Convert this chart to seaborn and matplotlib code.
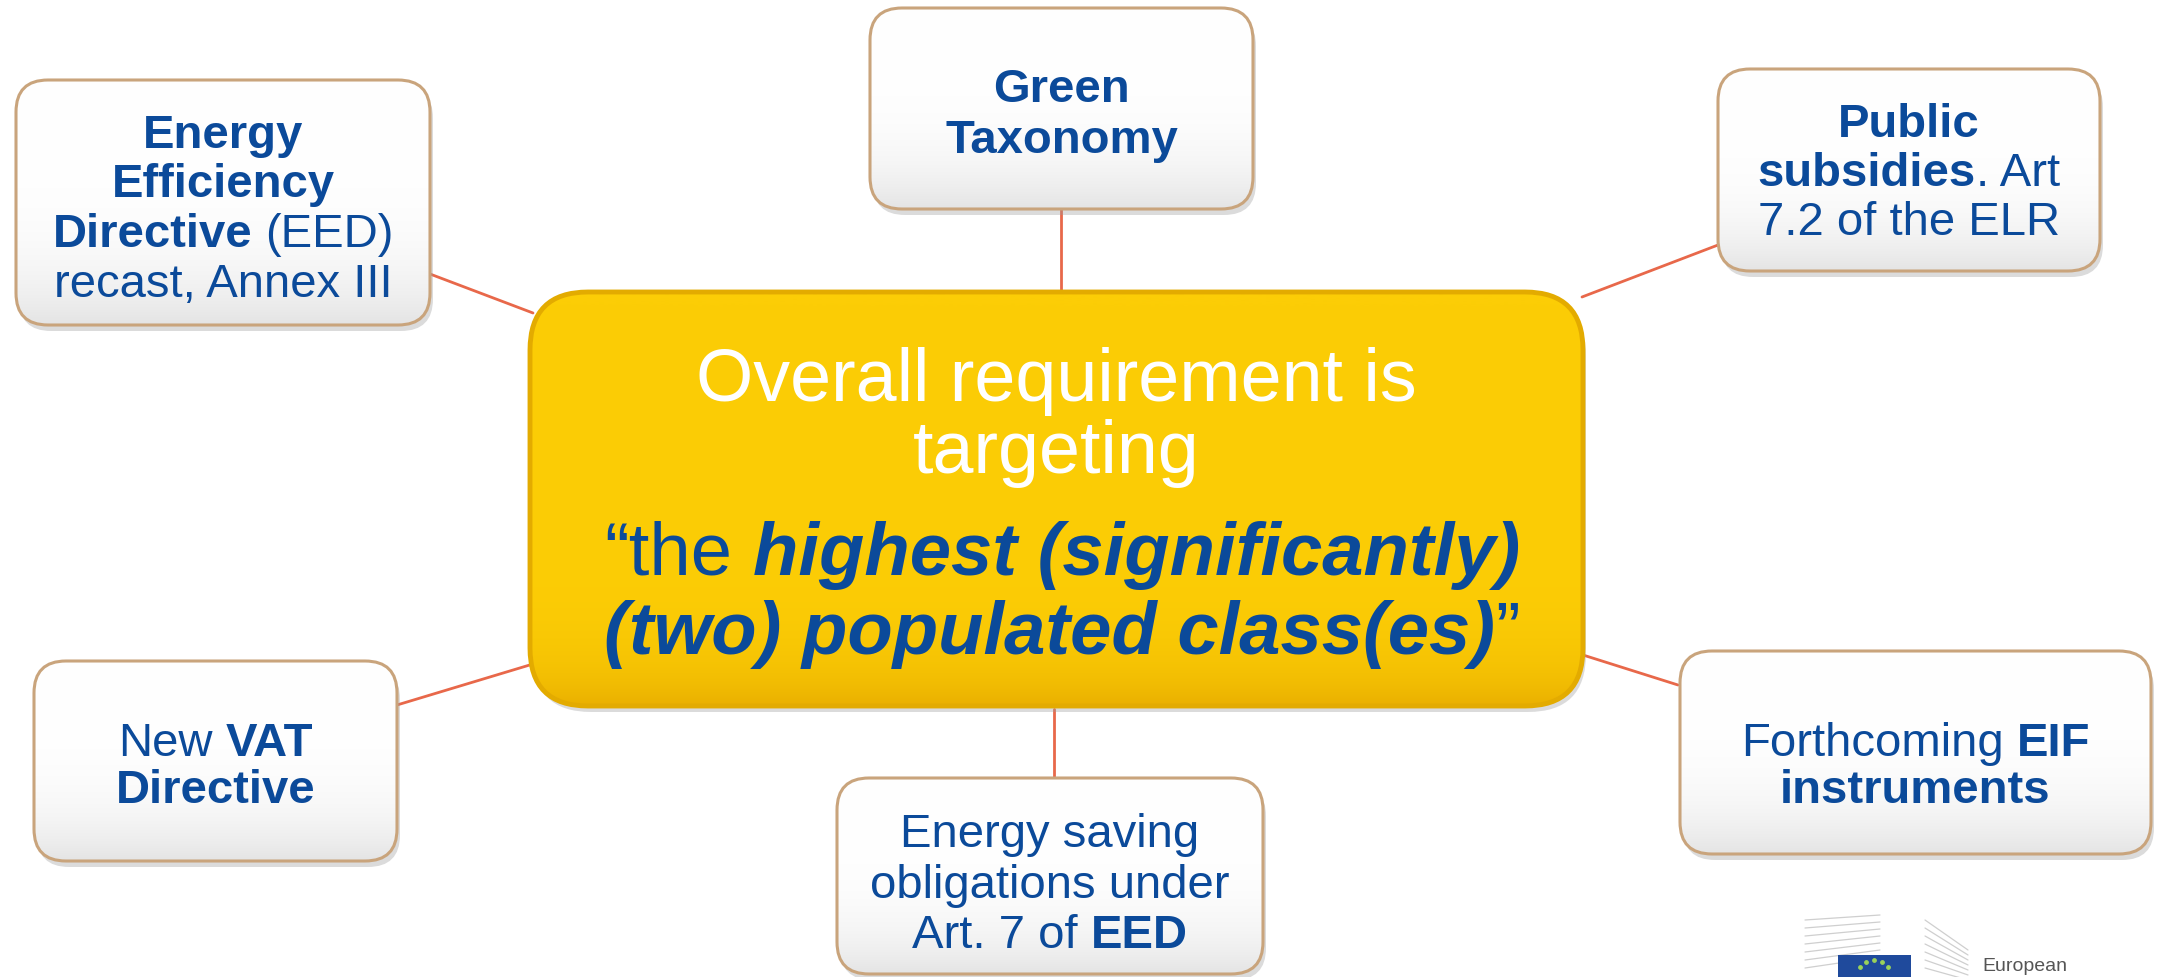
import numpy as np
import pandas as pd
import matplotlib.pyplot as plt
import seaborn as sns
from matplotlib.patches import FancyBboxPatch, Rectangle
from matplotlib.colors import to_rgb

# --- texts of the diagram ---
eed_lines = [[("Energy", "bold")], [("Efficiency", "bold")],
             [("Directive", "bold"), (" (EED)", "normal")], [("recast, Annex III", "normal")]]
taxonomy_lines = [[("Green", "bold")], [("Taxonomy", "bold")]]
subsidies_lines = [[("Public", "bold")], [("subsidies", "bold"), (". Art", "normal")],
                   [("7.2 of the ELR", "normal")]]
vat_lines = [[("New ", "normal"), ("VAT", "bold")], [("Directive", "bold")]]
saving_lines = [[("Energy saving", "normal")], [("obligations under", "normal")],
                [("Art. 7 of ", "normal"), ("EED", "bold")]]
eif_lines = [[("Forthcoming ", "normal"), ("EIF", "bold")], [("instruments", "bold")]]

center_top = ["Overall requirement is", "targeting"]
center_quote = [[("\u201cthe", "normal", "normal"), (" highest (significantly)", "bold", "italic")],
                [("(two) populated class(es)", "bold", "italic"), ("\u201d", "normal", "normal")]]

# --- layout (pixel coords of the 2159x977 canvas) ---
box_x0 = [16, 870, 1718, 34, 837, 1680]
box_x1 = [430, 1253, 2100, 397, 1263, 2151]
box_y0 = [80, 8, 69, 661, 778, 651]
box_y1 = [325, 209, 271, 861, 974, 854]
box_lines = [eed_lines, taxonomy_lines, subsidies_lines, vat_lines, saving_lines, eif_lines]
line_y = [[131, 180, 230, 280], [85, 136], [120, 169, 218], [739, 786], [830, 881, 931], [739, 786]]

link_x0 = [430, 1061, 1718, 397, 1054, 1583]
link_y0 = [274, 209, 245, 705, 709, 655]
link_x1 = [533, 1061, 1582, 533, 1054, 1678]
link_y1 = [313, 292, 297, 664, 778, 685]

BLUE = "#0b4a9a"
LINK = "#e8684a"
FONT = "Liberation Sans"
W, H = 2159, 977

sns.set_theme(style="white")
plt.rcParams["font.family"] = [FONT, "DejaVu Sans"]

fig = plt.figure(figsize=(W / 100, H / 100), dpi=100)
ax = fig.add_axes([0, 0, 1, 1])
renderer = fig.canvas.get_renderer()


def rich_line(cx, cy, parts, size, color, z=5):
    em = size * 100 / 72
    sp = 0.278 * em
    texts, pre, post = [], [], []
    for p in parts:
        s, w = p[0], p[1]
        st = p[2] if len(p) > 2 else "normal"
        t = ax.text(0, cy + 0.36 * em, s.strip(), fontsize=size, fontweight=w, fontstyle=st,
                    color=color, ha="left", va="baseline", family=FONT, zorder=z)
        texts.append(t)
        pre.append(sp if s.startswith(" ") else 0)
        post.append(sp if s.endswith(" ") else 0)
    widths = [t.get_window_extent(renderer).width for t in texts]
    total = sum(widths) + sum(pre) + sum(post)
    x = cx - total / 2
    for t, wd, a, b in zip(texts, widths, pre, post):
        x += a
        t.set_x(x)
        x += wd + b


def gradient_box(x0, y0, x1, y1, r, top, bottom, edge, lw, z, power=3):
    style = f"round,pad=0,rounding_size={r}"
    ax.add_patch(FancyBboxPatch((x0 + 3, y0 + 6), x1 - x0, y1 - y0, boxstyle=style,
                                fc="#9a9a9a", ec="none", alpha=0.35, zorder=z - 1))
    ax.add_patch(FancyBboxPatch((x0, y0), x1 - x0, y1 - y0, boxstyle=style,
                                fc="none", ec=edge, lw=lw, zorder=z + 1))
    grad = np.linspace(0, 1, 256).reshape(-1, 1)
    c0, c1 = np.array(to_rgb(top)), np.array(to_rgb(bottom))
    img = c0 + (c1 - c0) * grad[..., None] ** power
    im = ax.imshow(img, extent=(x0, x1, y1, y0), aspect="auto", zorder=z, interpolation="bilinear")
    im.set_clip_path(FancyBboxPatch((x0, y0), x1 - x0, y1 - y0, boxstyle=style,
                                    transform=ax.transData))


# connectors
links = pd.DataFrame({
    "x": np.ravel(np.column_stack([link_x0, link_x1])),
    "y": np.ravel(np.column_stack([link_y0, link_y1])),
    "link": np.repeat(np.arange(len(link_x0)), 2),
})
sns.lineplot(data=links, x="x", y="y", units="link", estimator=None, sort=False,
             color=LINK, lw=2.0, ax=ax, zorder=1, legend=False)

# outer boxes
for x0, x1, y0, y1, lines, ys in zip(box_x0, box_x1, box_y0, box_y1, box_lines, line_y):
    gradient_box(x0, y0, x1, y1, 32, "#ffffff", "#e4e4e4", "#c9a47c", 2.2, 3, power=4)
    cx = (x0 + x1) / 2
    for parts, cy in zip(lines, ys):
        rich_line(cx, cy, parts, 34, BLUE)

# central box
gradient_box(530, 292, 1583, 706, 58, "#fccd06", "#eab000", "#e3ab00", 3.5, 3, power=10)
for s, cy in zip(center_top, [374, 447]):
    rich_line(1056, cy, [(s, "normal")], 53, "white")
for parts, cy in zip(center_quote, [548, 627]):
    rich_line(1062, cy, parts, 53.5, BLUE)

# logo fragment, bottom right
for k in range(7):
    ax.plot([1805, 1880], [920 + k * 8, 915 + k * 7], color="#cfcfcf", lw=0.9, zorder=2)
    ax.plot([1925, 1968], [920 + k * 8, 950 + k * 5], color="#cfcfcf", lw=0.9, zorder=2)
ax.add_patch(Rectangle((1838, 955), 73, 30, fc="#1f4a9c", ec="none", zorder=3))
ang = np.linspace(np.pi * 0.15, np.pi * 0.85, 5)
ax.scatter(1874 + 16 * np.cos(ang), 972 - 12 * np.sin(ang), s=6, c="#9ad25a", zorder=4)
ax.text(1982, 975, "European", fontsize=14, color="#555555", ha="left", va="bottom", family=FONT)

ax.set_xlim(0, W)
ax.set_ylim(H, 0)
ax.axis("off")
fig.savefig("out.png", dpi=100)
